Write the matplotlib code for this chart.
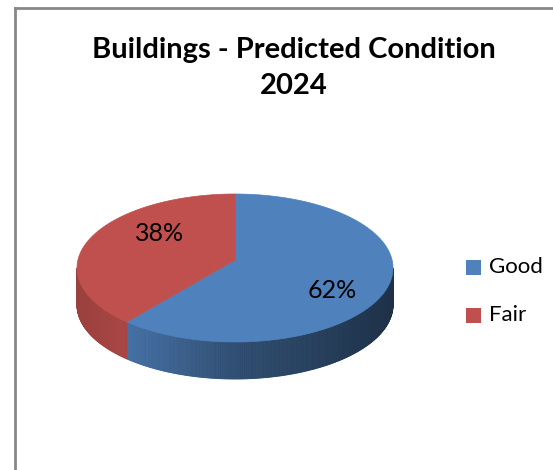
import numpy as np
import matplotlib
matplotlib.use('Agg')
import matplotlib.pyplot as plt
from matplotlib.patches import Polygon, Rectangle
from matplotlib.lines import Line2D

plt.rcParams['font.family'] = ['Lato', 'DejaVu Sans']

title = 'Buildings - Predicted Condition\n2024'
labels = ['Good', 'Fair']
values = [62, 38]
colors = ['#4F81BD', '#C0504D']

# pie geometry in pixels (top face ellipse + side depth)
cx, cy, rx, ry, depth = 235, 268, 158, 74, 37
apex_dy = -8

W, H = 553, 470
fig = plt.figure(figsize=(W / 100, H / 100), dpi=100)
ax = fig.add_axes([0, 0, 1, 1])
ax.set_xlim(0, W)
ax.set_ylim(H, 0)
ax.axis('off')

# frame (only left and top visible)
ax.add_line(Line2D([15, 15], [8, H], color='#878787', lw=2))
ax.add_line(Line2D([15, W], [8, 8], color='#878787', lw=2))


def rim(t, dy=0):
    t = np.radians(t)
    return np.column_stack([cx + rx * np.cos(t), cy - ry * np.sin(t) + dy])


def shade(x):
    u = (x - cx) / rx
    return np.interp(u, [-1, -0.7, 0, 1], [0.8, 0.88, 0.6, 0.38])


total = sum(values)
starts = []
cum = 0
for v in values:
    starts.append((90 - cum / total * 360, 90 - (cum + v) / total * 360))
    cum += v

# side walls (front half only, angles in (-180, 0))
for (t0, t1), c in zip(starts, colors):
    base = np.array(matplotlib.colors.to_rgb(c))
    for k in (0, -360):
        a0, a1 = t1 - k, t0 - k
        lo, hi = max(a0, -180), min(a1, 0)
        if lo >= hi:
            continue
        angs = np.linspace(lo, hi, int((hi - lo) * 2) + 2)
        for a, b in zip(angs[:-1], angs[1:]):
            top = rim(np.array([a, b]))
            poly = np.vstack([top, rim(np.array([b, a]), depth)])
            col = np.clip(base * shade(top[:, 0].mean()), 0, 1)
            ax.add_patch(Polygon(poly, closed=True, fc=col, ec=col, lw=0.6))

# top face
for (t0, t1), c in zip(starts, colors):
    angs = np.linspace(t0, t1, 200)
    pts = np.vstack([[cx, cy + apex_dy], rim(angs)])
    ax.add_patch(Polygon(pts, closed=True, fc=c, ec=c, lw=0.5))

# percent labels
for (t0, t1), v in zip(starts, values):
    m = np.radians((t0 + t1) / 2)
    lx = cx + 11 + 0.59 * rx * np.cos(m)
    ly = cy - 6 - 1.05 * ry * np.sin(m)
    ax.text(lx, ly, f'{v}%', fontsize=18, ha='center', va='center', color='black')

ax.text(294, 68, title, fontsize=21, fontweight='bold', ha='center', va='center',
        linespacing=1.5)

# legend
for i, (lab, c) in enumerate(zip(labels, colors)):
    y = 267 + i * 48
    ax.add_patch(Rectangle((466, y - 7.5), 15, 15, fc=c, ec='none'))
    ax.text(489, y, lab, fontsize=16, ha='left', va='center')

fig.savefig('out.png', dpi=100)
